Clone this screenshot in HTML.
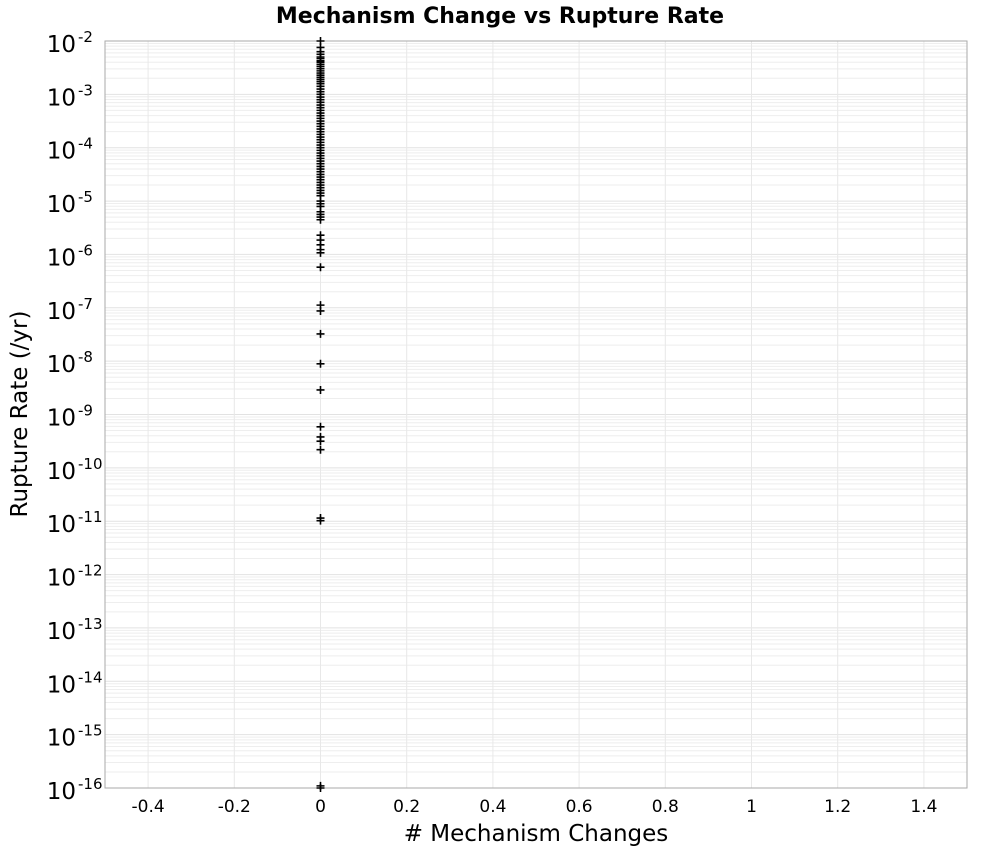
<!DOCTYPE html>
<html><head><meta charset="utf-8">
<style>
body{margin:0;background:#fff;width:1000px;height:850px;overflow:hidden;font-family:"DejaVu Sans","Liberation Sans",sans-serif;}
svg text{font-family:"DejaVu Sans","Liberation Sans",sans-serif;}
</style></head><body>
<svg id="chart" width="1000" height="850" xmlns="http://www.w3.org/2000/svg">
<text x="500" y="23" text-anchor="middle" font-size="22" font-weight="bold">Mechanism Change vs Rupture Rate</text>
<text x="536" y="841" text-anchor="middle" font-size="23">&#35; Mechanism Changes</text>
<text transform="translate(27,414) rotate(-90)" text-anchor="middle" font-size="23">Rupture Rate (/yr)</text>
<g id="grid"></g>
<g id="axes"></g>
<g id="points"></g>
</svg>
<script>
const xTicks=[-0.4,-0.2,0,0.2,0.4,0.6,0.8,1,1.2,1.4];
const yExps=[-2,-3,-4,-5,-6,-7,-8,-9,-10,-11,-12,-13,-14,-15,-16];
const mechChanges=0;
const logRates=[-2.0,-2.12,-2.2,-2.25,-2.3,-2.33,-2.37,-2.4,-2.44,-2.48,-2.52,-2.56,-2.6,-2.64,-2.68,-2.72,-2.76,-2.8,-2.85,-2.9,-2.95,-3.0,-3.05,-3.1,-3.15,-3.2,-3.25,-3.3,-3.35,-3.4,-3.45,-3.5,-3.55,-3.6,-3.65,-3.7,-3.75,-3.8,-3.85,-3.9,-3.95,-4.0,-4.05,-4.1,-4.15,-4.2,-4.25,-4.3,-4.35,-4.4,-4.45,-4.5,-4.55,-4.6,-4.65,-4.7,-4.75,-4.8,-4.85,-4.9,-5.0,-5.05,-5.1,-5.2,-5.25,-5.3,-5.35,-5.64,-5.73,-5.82,-5.91,-5.97,-6.24,-6.95,-7.06,-7.49,-8.05,-8.54,-9.23,-9.42,-9.5,-9.66,-10.94,-10.99,-15.96,-16.0];
const L=105,R=967,T=41,B=788,xMin=-0.5,xMax=1.5,yTop=-2,yBot=-16;
const sx=v=>L+(v-xMin)/(xMax-xMin)*(R-L);
const sy=e=>T+(yTop-e)/(yTop-yBot)*(B-T);
const NS="http://www.w3.org/2000/svg";
function mk(tag,attrs,parent){const e=document.createElementNS(NS,tag);for(const k in attrs)e.setAttribute(k,attrs[k]);parent.appendChild(e);return e;}
const grid=document.getElementById('grid'),axes=document.getElementById('axes'),pts=document.getElementById('points');
// minor grid
for(let d=yBot;d<yTop;d++){for(let m=2;m<=9;m++){const y=sy(d+Math.log10(m));
const l=mk('line',{x1:L,x2:R,y1:y,y2:y,stroke:'#eeeeee','stroke-width':1},grid);

}}
yExps.forEach(e=>{const y=sy(e);
const l=mk('line',{x1:L,x2:R,y1:y,y2:y,stroke:'#e2e2e2','stroke-width':1},grid);


const t=mk('text',{x:76,y:y+11,'text-anchor':'end','font-size':23},axes);


t.textContent='10';
const s=mk('text',{x:78,y:y+1,'text-anchor':'start','font-size':15},axes);


s.textContent=String(e);});
xTicks.forEach(v=>{const x=sx(v);
const l=mk('line',{x1:x,x2:x,y1:T,y2:B,stroke:'#e8e8e8','stroke-width':1},grid);


const t=mk('text',{x:x,y:812,'text-anchor':'middle','font-size':17},axes);


t.textContent=String(v);});
const fr=mk('rect',{x:L,y:T,width:R-L,height:B-T,fill:'none',stroke:'#aaaaaa','stroke-width':1},axes);


logRates.forEach(e=>{const x=sx(mechChanges),y=sy(e);
const p=mk('path',{d:`M${x-4},${y}H${x+4}M${x},${y-4}V${y+4}`,stroke:'#000','stroke-width':1.6},pts);

});
</script>
</body></html>
